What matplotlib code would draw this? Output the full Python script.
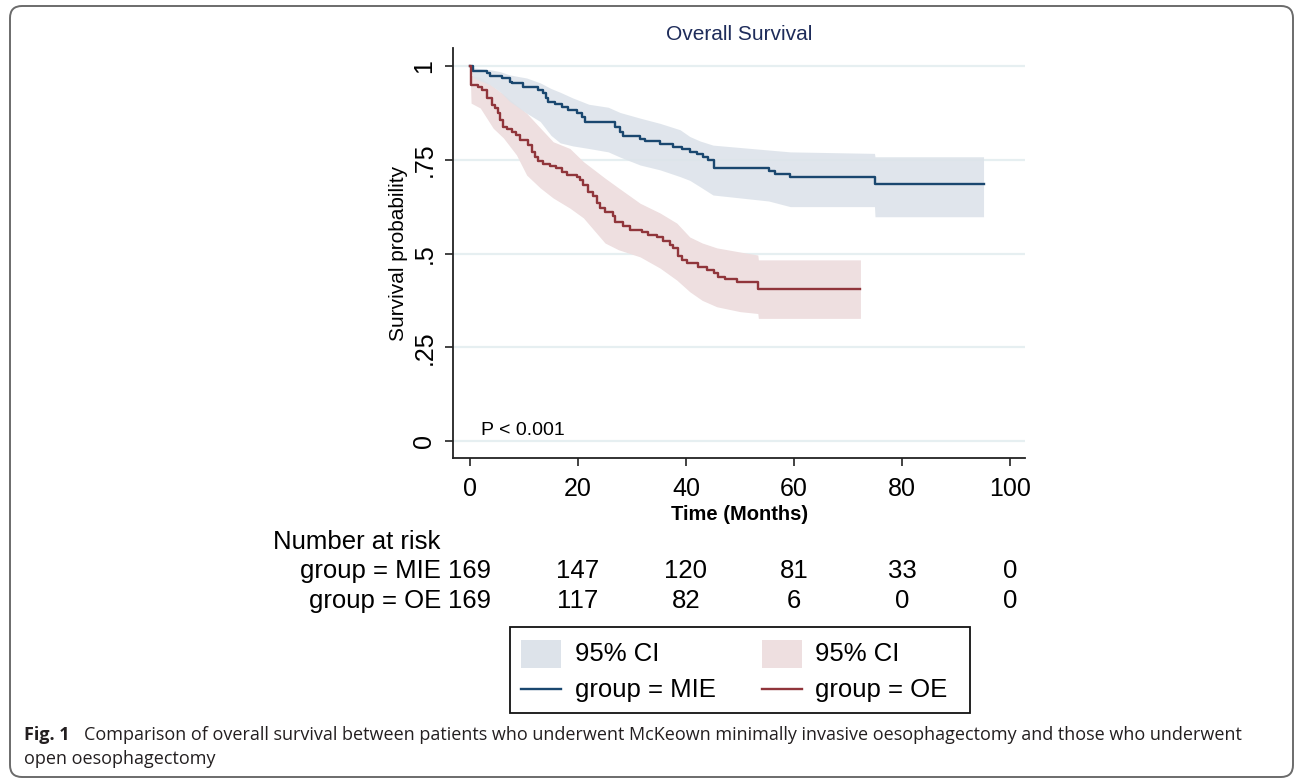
import numpy as np
import matplotlib
matplotlib.use("Agg")
import matplotlib.pyplot as plt
from matplotlib.patches import FancyBboxPatch, Rectangle
from matplotlib.lines import Line2D
import matplotlib.transforms as mtransforms

plt.rcParams['font.family'] = ['Liberation Sans', 'DejaVu Sans']

# ---------------- data ----------------
mie_time = [0, 0.6, 3.1, 3.7, 5.9, 7.4, 7.7, 9.9, 12.6, 13.6, 14.1, 14.5, 15.7, 17.0, 18.2,
            19.8, 20.7, 21.3, 26.9, 27.8, 28.4, 31.5, 32.4, 35.2, 37.6, 39.2, 40.7, 42.0,
            43.2, 44.1, 45.1, 55.3, 56.5, 59.3, 75.0]
mie_surv = [1.0, 0.987, 0.981, 0.973, 0.967, 0.958, 0.954, 0.945, 0.936, 0.927, 0.914, 0.905,
            0.899, 0.891, 0.883, 0.876, 0.865, 0.851, 0.838, 0.825, 0.813, 0.805, 0.801, 0.791,
            0.785, 0.778, 0.771, 0.765, 0.758, 0.749, 0.729, 0.721, 0.713, 0.703, 0.685]
mie_end = 95.1

oe_time = [0, 0.2, 1.5, 2.2, 3.1, 4.0, 4.6, 5.2, 5.6, 6.2, 6.8, 7.7, 8.6, 9.3, 10.8, 11.4, 12.0,
           12.6, 13.6, 14.8, 16.0, 17.0, 17.9, 19.8, 20.4, 21.0, 21.9, 22.8, 23.5, 24.1, 25.0,
           26.5, 26.9, 28.4, 29.6, 31.8, 33.0, 34.6, 35.8, 37.0, 37.6, 38.6, 39.2, 40.1, 42.3,
           43.8, 45.1, 46.0, 47.2, 49.4, 53.4]
oe_surv = [1.0, 0.949, 0.945, 0.936, 0.914, 0.896, 0.887, 0.874, 0.856, 0.838, 0.831, 0.825,
           0.816, 0.803, 0.789, 0.771, 0.758, 0.747, 0.739, 0.733, 0.727, 0.718, 0.709, 0.705,
           0.696, 0.683, 0.665, 0.653, 0.634, 0.621, 0.611, 0.600, 0.585, 0.573, 0.564, 0.558,
           0.549, 0.543, 0.534, 0.523, 0.514, 0.493, 0.483, 0.474, 0.465, 0.456, 0.447, 0.438,
           0.431, 0.423, 0.405]
oe_end = 72.3

mie_ci_time = [0, 0.6, 3.7, 5.6, 7.4, 10.5, 13.0, 15.0, 16.7, 19.0, 22.0, 25.6, 27.8, 31.5,
               35.2, 38.9, 40.7, 42.6, 45.0, 55.3, 59.3, 74.9, 75.0, 95.1]
mie_ci_low = [1.0, 0.968, 0.950, 0.931, 0.905, 0.874, 0.852, 0.815, 0.795, 0.787, 0.780, 0.771,
              0.757, 0.736, 0.723, 0.705, 0.695, 0.678, 0.656, 0.640, 0.625, 0.625, 0.598,
              0.598]
mie_ci_high = [1.0, 0.995, 0.990, 0.985, 0.976, 0.968, 0.955, 0.940, 0.930, 0.915, 0.898, 0.890,
               0.876, 0.861, 0.847, 0.830, 0.812, 0.800, 0.789, 0.776, 0.771, 0.767, 0.758,
               0.758]

oe_ci_time = [0, 0.2, 1.9, 4.3, 6.2, 8.6, 10.5, 13.0, 15.4, 18.5, 21.0, 25.0, 27.5, 31.5, 35.2,
              38.3, 40.7, 43.0, 45.7, 50.0, 53.3, 53.4, 72.3]
oe_ci_low = [1.0, 0.901, 0.888, 0.834, 0.808, 0.763, 0.709, 0.675, 0.648, 0.621, 0.595, 0.528,
             0.510, 0.491, 0.461, 0.429, 0.398, 0.375, 0.358, 0.345, 0.340, 0.327, 0.327]
oe_ci_high = [1.0, 0.975, 0.970, 0.945, 0.925, 0.896, 0.874, 0.835, 0.798, 0.780, 0.745, 0.701,
              0.675, 0.634, 0.608, 0.581, 0.544, 0.528, 0.515, 0.504, 0.496, 0.483, 0.483]

risk_times = [0, 20, 40, 60, 80, 100]
risk_mie = [169, 147, 120, 81, 33, 0]
risk_oe = [169, 117, 82, 6, 0, 0]

x_ticks = [0, 20, 40, 60, 80, 100]
y_ticks = [0, 0.25, 0.5, 0.75, 1]
y_ticklabels = ["0", ".25", ".5", ".75", "1"]

# ---------------- style ----------------
W, H = 1295, 779
MIE_LINE = "#1a476f"
MIE_FILL = "#dde3ea"
OE_LINE = "#90353b"
OE_FILL = "#eedfe0"
GRID = "#e6eff1"
TITLE_C = "#1e2c5a"

fig = plt.figure(figsize=(W / 100, H / 100), dpi=100)

def px_axes(l, t, r, b):
    return [l / W, 1 - b / H, (r - l) / W, (b - t) / H]

# overlay in pixel coordinates for frame/caption/legend
ov = fig.add_axes([0, 0, 1, 1])
ov.set_xlim(0, W)
ov.set_ylim(H, 0)
ov.axis("off")

frame = FancyBboxPatch((10, 6), 1283, 771, boxstyle="round,pad=0,rounding_size=12",
                       fill=False, edgecolor="#6b6b6b", linewidth=1.4)
ov.add_patch(frame)

ax = fig.add_axes(px_axes(453, 48, 1025, 458))
x0px, xscale = 470, 5.4
y0px, yscale = 441, 375
ax.set_xlim((453 - x0px) / xscale, (1025 - x0px) / xscale)
ax.set_ylim((y0px - 458) / yscale, (y0px - 48) / yscale)

for v in y_ticks:
    ax.axhline(v, color=GRID, lw=1.6, zorder=0)

def step_arrays(t, v, end):
    return np.append(t, end), np.append(v, v[-1])

ax.fill_between(oe_ci_time, oe_ci_low, oe_ci_high, color=OE_FILL, lw=0, zorder=1)
ax.fill_between(mie_ci_time, mie_ci_low, mie_ci_high, color=MIE_FILL, lw=0, zorder=1, alpha=0.9)

t, s = step_arrays(mie_time, mie_surv, mie_end)
ax.step(t, s, where="post", color=MIE_LINE, lw=1.7, zorder=3)
t, s = step_arrays(oe_time, oe_surv, oe_end)
ax.step(t, s, where="post", color=OE_LINE, lw=1.7, zorder=3)

for sp in ["top", "right"]:
    ax.spines[sp].set_visible(False)
for sp in ["left", "bottom"]:
    ax.spines[sp].set_linewidth(1.3)
    ax.spines[sp].set_color("#222222")

ax.set_xticks(x_ticks)
ax.set_xticklabels([str(v) for v in x_ticks])
ax.set_yticks(y_ticks)
ax.set_yticklabels(y_ticklabels, rotation=90, va="center")
ax.tick_params(axis="x", length=6, width=1.2, pad=8, labelsize=18, color="#222222")
ax.tick_params(axis="y", length=6, width=1.2, pad=6, labelsize=18, color="#222222")

ax.set_title("Overall Survival", fontsize=15, color=TITLE_C, pad=6)
ax.text(2.0, 0.029, "P < 0.001", fontsize=14, ha="left", va="center")

ov.text(398, 253, "Survival probability", rotation=90, fontsize=15, ha="center", va="center")
ov.text(740, 515, "Time (Months)", fontsize=14.5, fontweight="bold", ha="center", va="center")

# number at risk table
ov.text(273, 542, "Number at risk", fontsize=18.5, ha="left", va="center")
ov.text(441, 571, "group = MIE", fontsize=18.5, ha="right", va="center")
ov.text(441, 601, "group = OE", fontsize=18.5, ha="right", va="center")
blend = mtransforms.blended_transform_factory(ax.transData, ov.transData)
for tt, n1, n2 in zip(risk_times, risk_mie, risk_oe):
    ov.text(tt, 571, str(n1), transform=blend, fontsize=18.5, ha="center", va="center")
    ov.text(tt, 601, str(n2), transform=blend, fontsize=18.5, ha="center", va="center")

# legend
ov.add_patch(Rectangle((510, 627), 460, 86, fill=False, edgecolor="#111111", lw=1.3))
ov.add_patch(Rectangle((521, 640), 40, 28, facecolor=MIE_FILL, edgecolor="none"))
ov.add_patch(Rectangle((762, 640), 40, 28, facecolor=OE_FILL, edgecolor="none"))
ov.add_line(Line2D([521, 561], [689, 689], color=MIE_LINE, lw=1.7))
ov.add_line(Line2D([762, 802], [689, 689], color=OE_LINE, lw=1.7))
ov.text(575, 654, "95% CI", fontsize=18.5, ha="left", va="center")
ov.text(815, 654, "95% CI", fontsize=18.5, ha="left", va="center")
ov.text(575, 690, "group = MIE", fontsize=18.5, ha="left", va="center")
ov.text(815, 690, "group = OE", fontsize=18.5, ha="left", va="center")

# caption
CAP = "#231f20"
capfont = ["Open Sans", "DejaVu Sans"]
ov.text(24, 735, "Fig. 1", fontsize=13, fontweight="bold", family=capfont, color=CAP,
        ha="left", va="center")
ov.text(84, 735, "Comparison of overall survival between patients who underwent McKeown minimally "
        "invasive oesophagectomy and those who underwent", fontsize=13, family=capfont,
        color=CAP, ha="left", va="center")
ov.text(24, 759, "open oesophagectomy", fontsize=13, family=capfont, color=CAP,
        ha="left", va="center")

fig.savefig("out.png", dpi=100)
